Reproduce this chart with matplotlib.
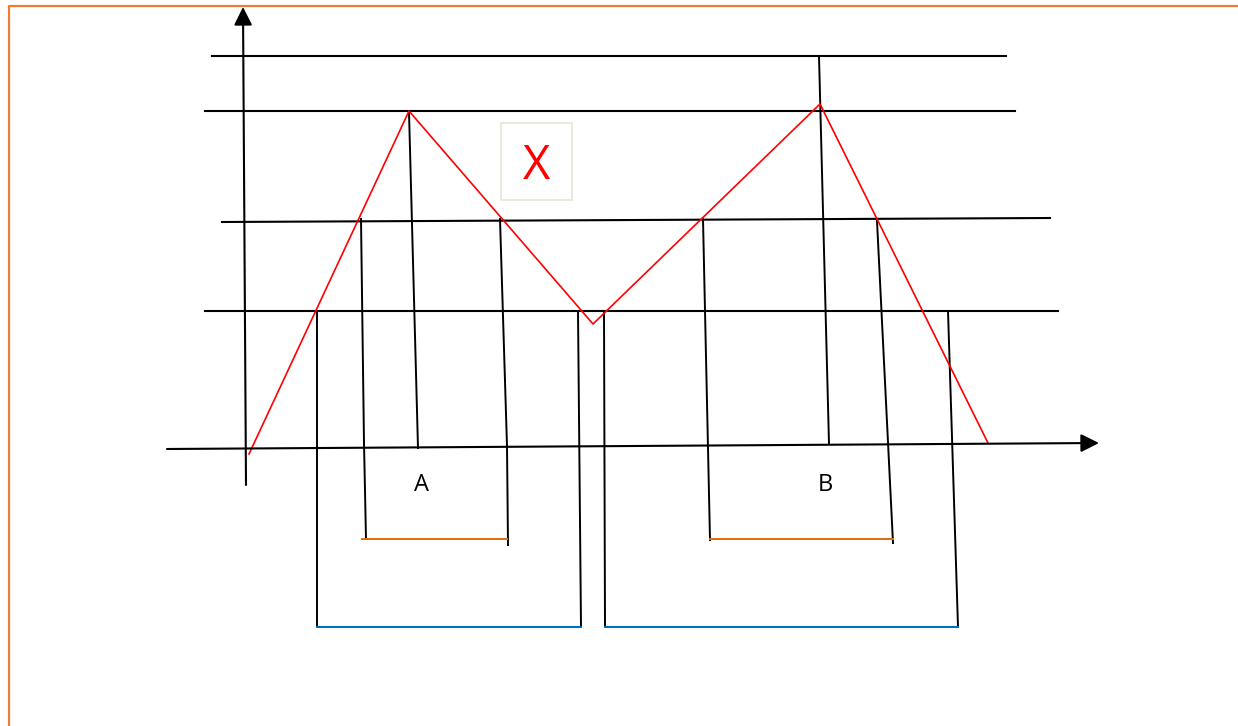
import matplotlib
matplotlib.use('Agg')
import matplotlib.pyplot as plt
from matplotlib.patches import Rectangle

# diagram drawn in pixel space (x right, y down)
# red zig-zag signal
signal_x = [249, 409, 593, 820, 988]
signal_y = [454, 111, 324, 104, 443]

# horizontal levels: x start, x end, y start, y end
levels_x0 = [212, 205, 222, 205]
levels_x1 = [1006, 1015, 1050, 1058]
levels_y0 = [56, 111, 222, 311]
levels_y1 = [56, 111, 218, 311]

# vertical drop lines: (x, y) points for each
drops = [
    [(317, 311), (317, 627)],
    [(361, 219), (364, 443), (366, 539)],
    [(409, 112), (418, 448)],
    [(500, 219), (507, 446), (508, 545)],
    [(578, 311), (581, 627)],
    [(604, 311), (605, 627)],
    [(703, 219), (710, 540)],
    [(819, 56), (829, 444)],
    [(877, 221), (893, 543)],
    [(948, 311), (958, 627)],
]

# brackets under the signal
orange_x0 = [362, 710]
orange_x1 = [507, 893]
orange_y = 539
blue_x0 = [317, 605]
blue_x1 = [581, 958]
blue_y = 627

labels = ['A', 'B']
label_x = [422, 825]
label_y = 485

fig = plt.figure(figsize=(12.38, 7.26), dpi=100)
ax = fig.add_axes([0, 0, 1, 1])
ax.set_xlim(0, 1238)
ax.set_ylim(726, 0)
ax.axis('off')

# orange frame (top and left edges visible)
ax.plot([9, 9, 1238], [726, 6, 6], color='#ED7D31', lw=1.6, solid_capstyle='butt')

# axes with arrows
arrow = dict(arrowstyle='-|>,head_length=1.1,head_width=0.55',
             color='black', lw=1.5, shrinkA=0, shrinkB=0)
ax.annotate('', xy=(1099, 443), xytext=(167, 449), arrowprops=arrow)
ax.annotate('', xy=(243, 7), xytext=(246, 485), arrowprops=arrow)

for x0, x1, y0, y1 in zip(levels_x0, levels_x1, levels_y0, levels_y1):
    ax.plot([x0, x1], [y0, y1], color='black', lw=1.5)

for d in drops:
    ax.plot([p[0] for p in d], [p[1] for p in d], color='black', lw=1.4)

for x0, x1 in zip(orange_x0, orange_x1):
    ax.plot([x0, x1], [orange_y, orange_y], color='#E36C0A', lw=1.4)
for x0, x1 in zip(blue_x0, blue_x1):
    ax.plot([x0, x1], [blue_y, blue_y], color='#0070C0', lw=1.5)

ax.plot(signal_x, signal_y, color='red', lw=1.2)

for lab, lx in zip(labels, label_x):
    ax.text(lx, label_y, lab, fontsize=17, family='Open Sans',
            ha='center', va='center', color='black')

# box with X
ax.add_patch(Rectangle((501, 123), 71, 77, fill=False, edgecolor='#ECE8DC', lw=1.4))
ax.text(536, 166, 'X', fontsize=34, family='Open Sans', color='red',
        ha='center', va='center')

fig.savefig('out.png', dpi=100)
